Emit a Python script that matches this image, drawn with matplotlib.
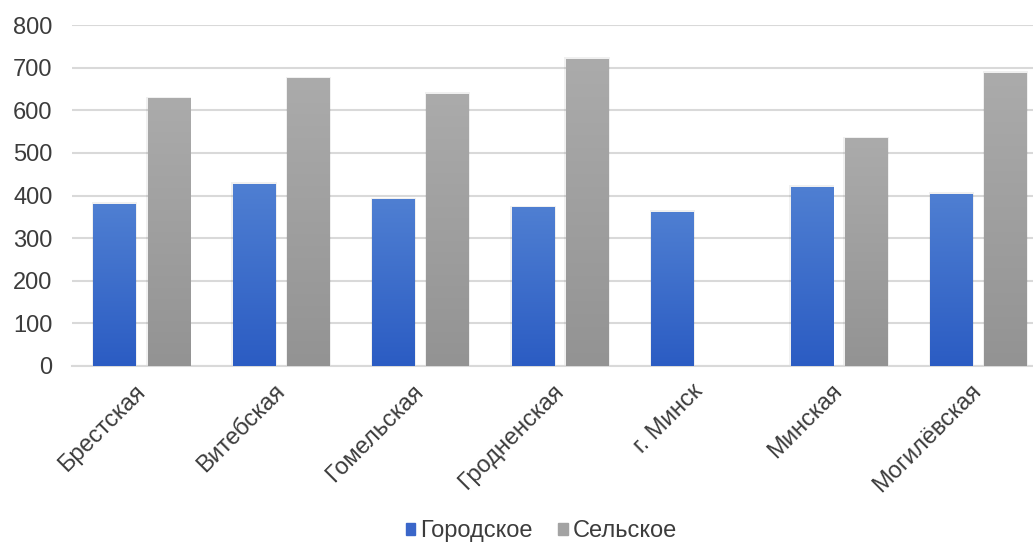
#!/usr/bin/env python

# Grouped bar chart - urban vs rural, by region of Belarus

import numpy as np
import matplotlib
matplotlib.use("Agg")
import matplotlib.pyplot as plt
from matplotlib.patches import Patch

regions = [
    "Брестская",
    "Витебская",
    "Гомельская",
    "Гродненская",
    "г. Минск",
    "Минская",
    "Могилёвская",
]
urban = [380, 428, 391, 372, 362, 420, 404]
rural = [628, 675, 639, 721, 0, 534, 687]
series_names = ["Городское", "Сельское"]

# Gradient colours (top, bottom)
blue_top, blue_bot = "#4f7fd2", "#2b5cc3"
grey_top, grey_bot = "#ababab", "#939393"

plt.rcParams["font.family"] = ["Liberation Sans", "DejaVu Sans"]

fig = plt.figure(figsize=(10.33, 5.48), dpi=100, facecolor="white")
# category spacing puts the right edge beyond the image, as in the original
ax = fig.add_axes([72 / 1033, 1 - 366 / 548, 976 / 1033, (366 - 25) / 548])

x = np.arange(len(regions))
width = 0.305
off = 0.194

bars_u = ax.bar(x - off, urban, width, color=blue_bot, zorder=3)
bars_r = ax.bar(x + off, rural, width, color=grey_bot, zorder=3)


def gradient_fill(bars, top, bot):
    cmap = matplotlib.colors.LinearSegmentedColormap.from_list("g", [bot, top])
    grad = np.linspace(0, 1, 256).reshape(-1, 1)
    for b in bars:
        h = b.get_height()
        if h <= 0:
            continue
        x0 = b.get_x()
        w = b.get_width()
        # soft shadow
        ax.bar(x0 + w / 2, h + 4, w + 0.02, color="#000000", alpha=0.06,
               zorder=2, linewidth=0)
        im = ax.imshow(grad, extent=[x0, x0 + w, 0, h], origin="lower",
                       cmap=cmap, aspect="auto", zorder=4)
        im.set_clip_path(b)
        b.set_facecolor("none")


gradient_fill(bars_u, blue_top, blue_bot)
gradient_fill(bars_r, grey_top, grey_bot)

ax.set_xlim(-0.5, len(regions) - 0.5)
ax.set_ylim(0, 800)
ax.set_yticks(np.arange(0, 801, 100))
ax.yaxis.grid(True, color="#d9d9d9", linewidth=1.5, zorder=0)
ax.set_axisbelow(True)
for s in ["top", "right", "left"]:
    ax.spines[s].set_visible(False)
ax.spines["bottom"].set_color("#d9d9d9")
ax.spines["bottom"].set_linewidth(1.5)

ax.tick_params(axis="y", length=0, pad=14, labelsize=17, labelcolor="#3c3c3c")
ax.tick_params(axis="x", length=0, pad=16, labelsize=17, labelcolor="#3c3c3c")
ax.set_xticks(x)
ax.set_xticklabels(regions, rotation=45, ha="right", va="center",
                   rotation_mode="anchor")

handles = [Patch(color="#3a66c9"), Patch(color="#a3a3a3")]
fig.legend(handles, series_names, loc="lower center",
           bbox_to_anchor=(0.524, -0.028), ncol=2, frameon=False, fontsize=17,
           handlelength=0.4, handleheight=0.4, handletextpad=0.2,
           columnspacing=1.1, labelcolor="#3c3c3c")

fig.savefig("out.png", dpi=100, facecolor="white")
